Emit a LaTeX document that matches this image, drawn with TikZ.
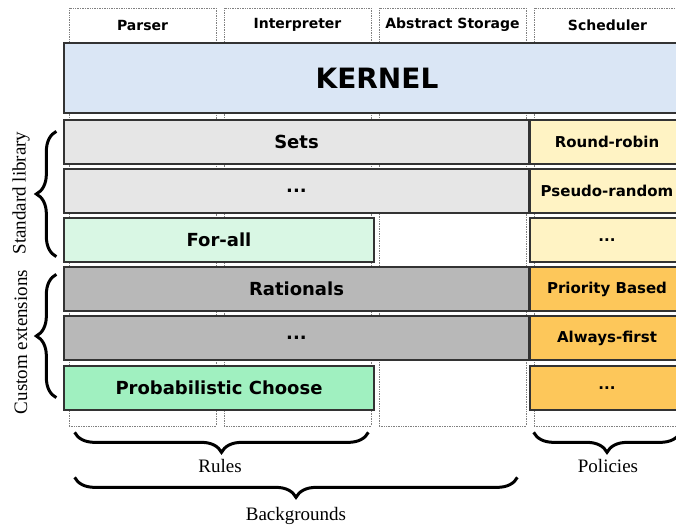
\documentclass[tikz,border=0pt]{standalone}
\usepackage{fontspec}
\setmainfont{Liberation Serif}
\setsansfont{DejaVu Sans}
\usetikzlibrary{decorations.pathreplacing, positioning}
\definecolor{kernelblue}{HTML}{DAE6F5}
\definecolor{libgray}{HTML}{E6E6E6}
\definecolor{libgreen}{HTML}{D9F7E4}
\definecolor{extgray}{HTML}{B8B8B8}
\definecolor{extgreen}{HTML}{A0F0C0}
\definecolor{schedlight}{HTML}{FFF3C4}
\definecolor{schedorange}{HTML}{FDC75A}

\begin{document}
\begin{tikzpicture}[x=1pt, y=-1pt,
    column/.style={draw=gray, densely dotted, line width=0.7pt, minimum width=147pt, minimum height=418pt},
    head/.style={font=\sffamily\bfseries\fontsize{14}{16}\selectfont},
    layer/.style={draw=black!80, line width=1.3pt, minimum height=44pt, inner sep=0pt,
        font=\sffamily\bfseries\fontsize{18}{20}\selectfont},
    policy/.style={layer, minimum width=154pt, font=\sffamily\bfseries\fontsize{15}{17}\selectfont},
    note/.style={font=\fontsize{19}{21}\selectfont},
    bigbrace/.style={decorate, decoration={brace, amplitude=20pt}, line width=3pt}]
    \useasboundingbox (0,0) rectangle (676,528);
    \clip (0,0) rectangle (676,528);

    % background columns
    \node[column] (cparser) at (142.5,217) {};
    \node[column] (cinterp) at (297.5,217) {};
    \node[column] (cstore) at (452.5,217) {};
    \node[column] (csched) at (607.5,217) {};
    \node[head] (hparser) at (142.5,25) {Parser};
    \node[head] (hinterp) at (297.5,25) {Interpreter};
    \node[head] (hstore) at (452.5,25) {Abstract Storage};
    \node[head] (hsched) at (607.5,25) {Scheduler};

    \node[layer, fill=kernelblue, minimum width=626pt, minimum height=70pt,
        font=\sffamily\bfseries\fontsize{28}{30}\selectfont] (kernel) at (377,78) {KERNEL};

    % rules
    \node[layer, fill=libgray, minimum width=465pt] (sets) at (296.5,142) {Sets};
    \node[layer, fill=libgray, minimum width=465pt] (libdots) at (296.5,191) {...};
    \node[layer, fill=libgreen, minimum width=310pt] (forall) at (219,240) {For-all};
    \node[layer, fill=extgray, minimum width=465pt] (rationals) at (296.5,289) {Rationals};
    \node[layer, fill=extgray, minimum width=465pt] (extdots) at (296.5,338) {...};
    \node[layer, fill=extgreen, minimum width=310pt] (probchoose) at (219,388) {Probabilistic Choose};

    % policies
    \node[policy, fill=schedlight] (roundrobin) at (607,142) {Round-robin};
    \node[policy, fill=schedlight] (pseudorandom) at (607,191) {Pseudo-random};
    \node[policy, fill=schedlight] (libpdots) at (607,240) {...};
    \node[policy, fill=schedorange] (priority) at (607,289) {Priority Based};
    \node[policy, fill=schedorange] (alwaysfirst) at (607,338) {Always-first};
    \node[policy, fill=schedorange] (extpdots) at (607,388) {...};

    % braces
    \draw[bigbrace] ([shift={(-7pt,6pt)}]forall.south west) -- ([shift={(-7pt,-12pt)}]sets.north west);
    \draw[bigbrace] ([shift={(-7pt,13pt)}]probchoose.south west) -- ([shift={(-7pt,-8pt)}]rationals.north west);
    \node[note, rotate=90] (stdlib) at (21,193) {Standard library};
    \node[note, rotate=90] (custext) at (21,342) {Custom extensions};

    \draw[bigbrace] ([shift={(-3pt,-6pt)}]cinterp.south east) -- ([shift={(6pt,-6pt)}]cparser.south west);
    \draw[bigbrace] ([shift={(-1pt,-6pt)}]csched.south east) -- ([shift={(0pt,-6pt)}]csched.south west);
    \draw[bigbrace] ([shift={(-9pt,-51pt)}]cstore.south east) -- ([shift={(6pt,-51pt)}]cparser.south west);
    \node[note] (rules) at (220,466) {Rules};
    \node[note] (policies) at (608,466) {Policies};
    \node[note] (backgrounds) at (296,516) {Backgrounds};
\end{tikzpicture}
\end{document}
